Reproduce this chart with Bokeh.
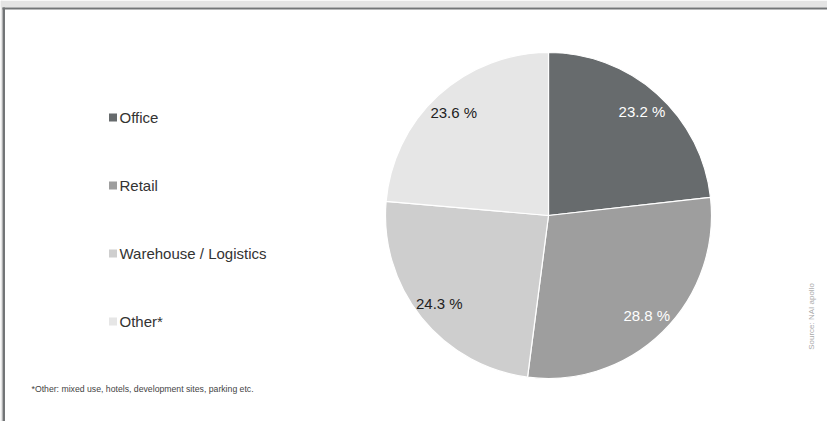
import math

from bokeh.core.properties import value
from bokeh.embed import file_html
from bokeh.models import ColumnDataSource, Range1d
from bokeh.plotting import figure
from bokeh.resources import INLINE

# Share of volume by property type (percent)
categories = ["Office", "Retail", "Warehouse / Logistics", "Other*"]
shares = [23.2, 28.8, 24.3, 23.6]
slice_colors = ["#676b6d", "#9e9e9e", "#cecece", "#e6e6e6"]
label_colors = ["#ffffff", "#ffffff", "#222222", "#222222"]
footnote = "*Other: mixed use, hotels, development sites, parking etc."
source_note = "Source: NAI apollo"

W, H = 827, 421
FONT = value("Liberation Sans")

p = figure(width=W, height=H, output_backend="svg", toolbar_location=None,
           x_range=Range1d(0, W), y_range=Range1d(0, H), min_border=0)
p.axis.visible = False
p.grid.visible = False
p.outline_line_color = None
p.background_fill_color = "#ffffff"
p.border_fill_color = "#ffffff"

# page frame: grey band on top and left, dark rule along the panel edge
p.quad(left=[0], right=[W], bottom=[H - 7], top=[H], fill_color="#e4e4e4", line_color=None)
p.quad(left=[0], right=[2], bottom=[0], top=[H], fill_color="#e4e4e4", line_color=None)
p.quad(left=[2], right=[W], bottom=[H - 9], top=[H - 7], fill_color="#727577", line_color=None)
p.quad(left=[2], right=[4.5], bottom=[0], top=[H - 7], fill_color="#727577", line_color=None)

# pie geometry (pixels, y measured upward)
cx, cy, R = 548, H - 215, 163

total = sum(shares)
starts, ends, mids = [], [], []
acc = 0.0
for s in shares:
    a0 = math.pi / 2 - 2 * math.pi * acc / total
    acc += s
    a1 = math.pi / 2 - 2 * math.pi * acc / total
    starts.append(a0)
    ends.append(a1)
    mids.append((a0 + a1) / 2)

pie = ColumnDataSource(dict(
    start=starts, end=ends, color=slice_colors,
    lx=[cx + 0.86 * R * math.cos(m) for m in mids],
    ly=[cy + 0.86 * R * math.sin(m) for m in mids],
    label=[f"{s:.1f} %" for s in shares],
    lcolor=label_colors,
))
p.wedge(x=cx, y=cy, radius=R, start_angle="start", end_angle="end", direction="clock",
        fill_color="color", line_color="#ffffff", line_width=1.2, source=pie)
p.text(x="lx", y="ly", text="label", text_color="lcolor", text_font=FONT,
       text_font_size="15px", text_align="center", text_baseline="middle", source=pie)

# legend down the left side
leg_y = [H - (117 + 68 * i) for i in range(len(categories))]
legend = ColumnDataSource(dict(y=leg_y, name=categories, color=slice_colors))
p.rect(x=112.5, y="y", width=8, height=8, fill_color="color", line_color=None, source=legend)
p.text(x=119, y="y", text="name", text_color="#333333", text_font=FONT,
       text_font_size="15px", text_align="left", text_baseline="middle", source=legend)

# footnote and source
p.text(x=[31], y=[H - 388], text=[footnote], text_color="#444444", text_font=FONT,
       text_font_size="8.7px", text_align="left", text_baseline="middle")
p.text(x=[811], y=[H - 316], text=[source_note], text_color="#aaaaaa", text_font=FONT,
       text_font_size="8px", text_align="center", text_baseline="middle", angle=math.pi / 2)

open("out.html", "w").write(file_html(p, INLINE))
